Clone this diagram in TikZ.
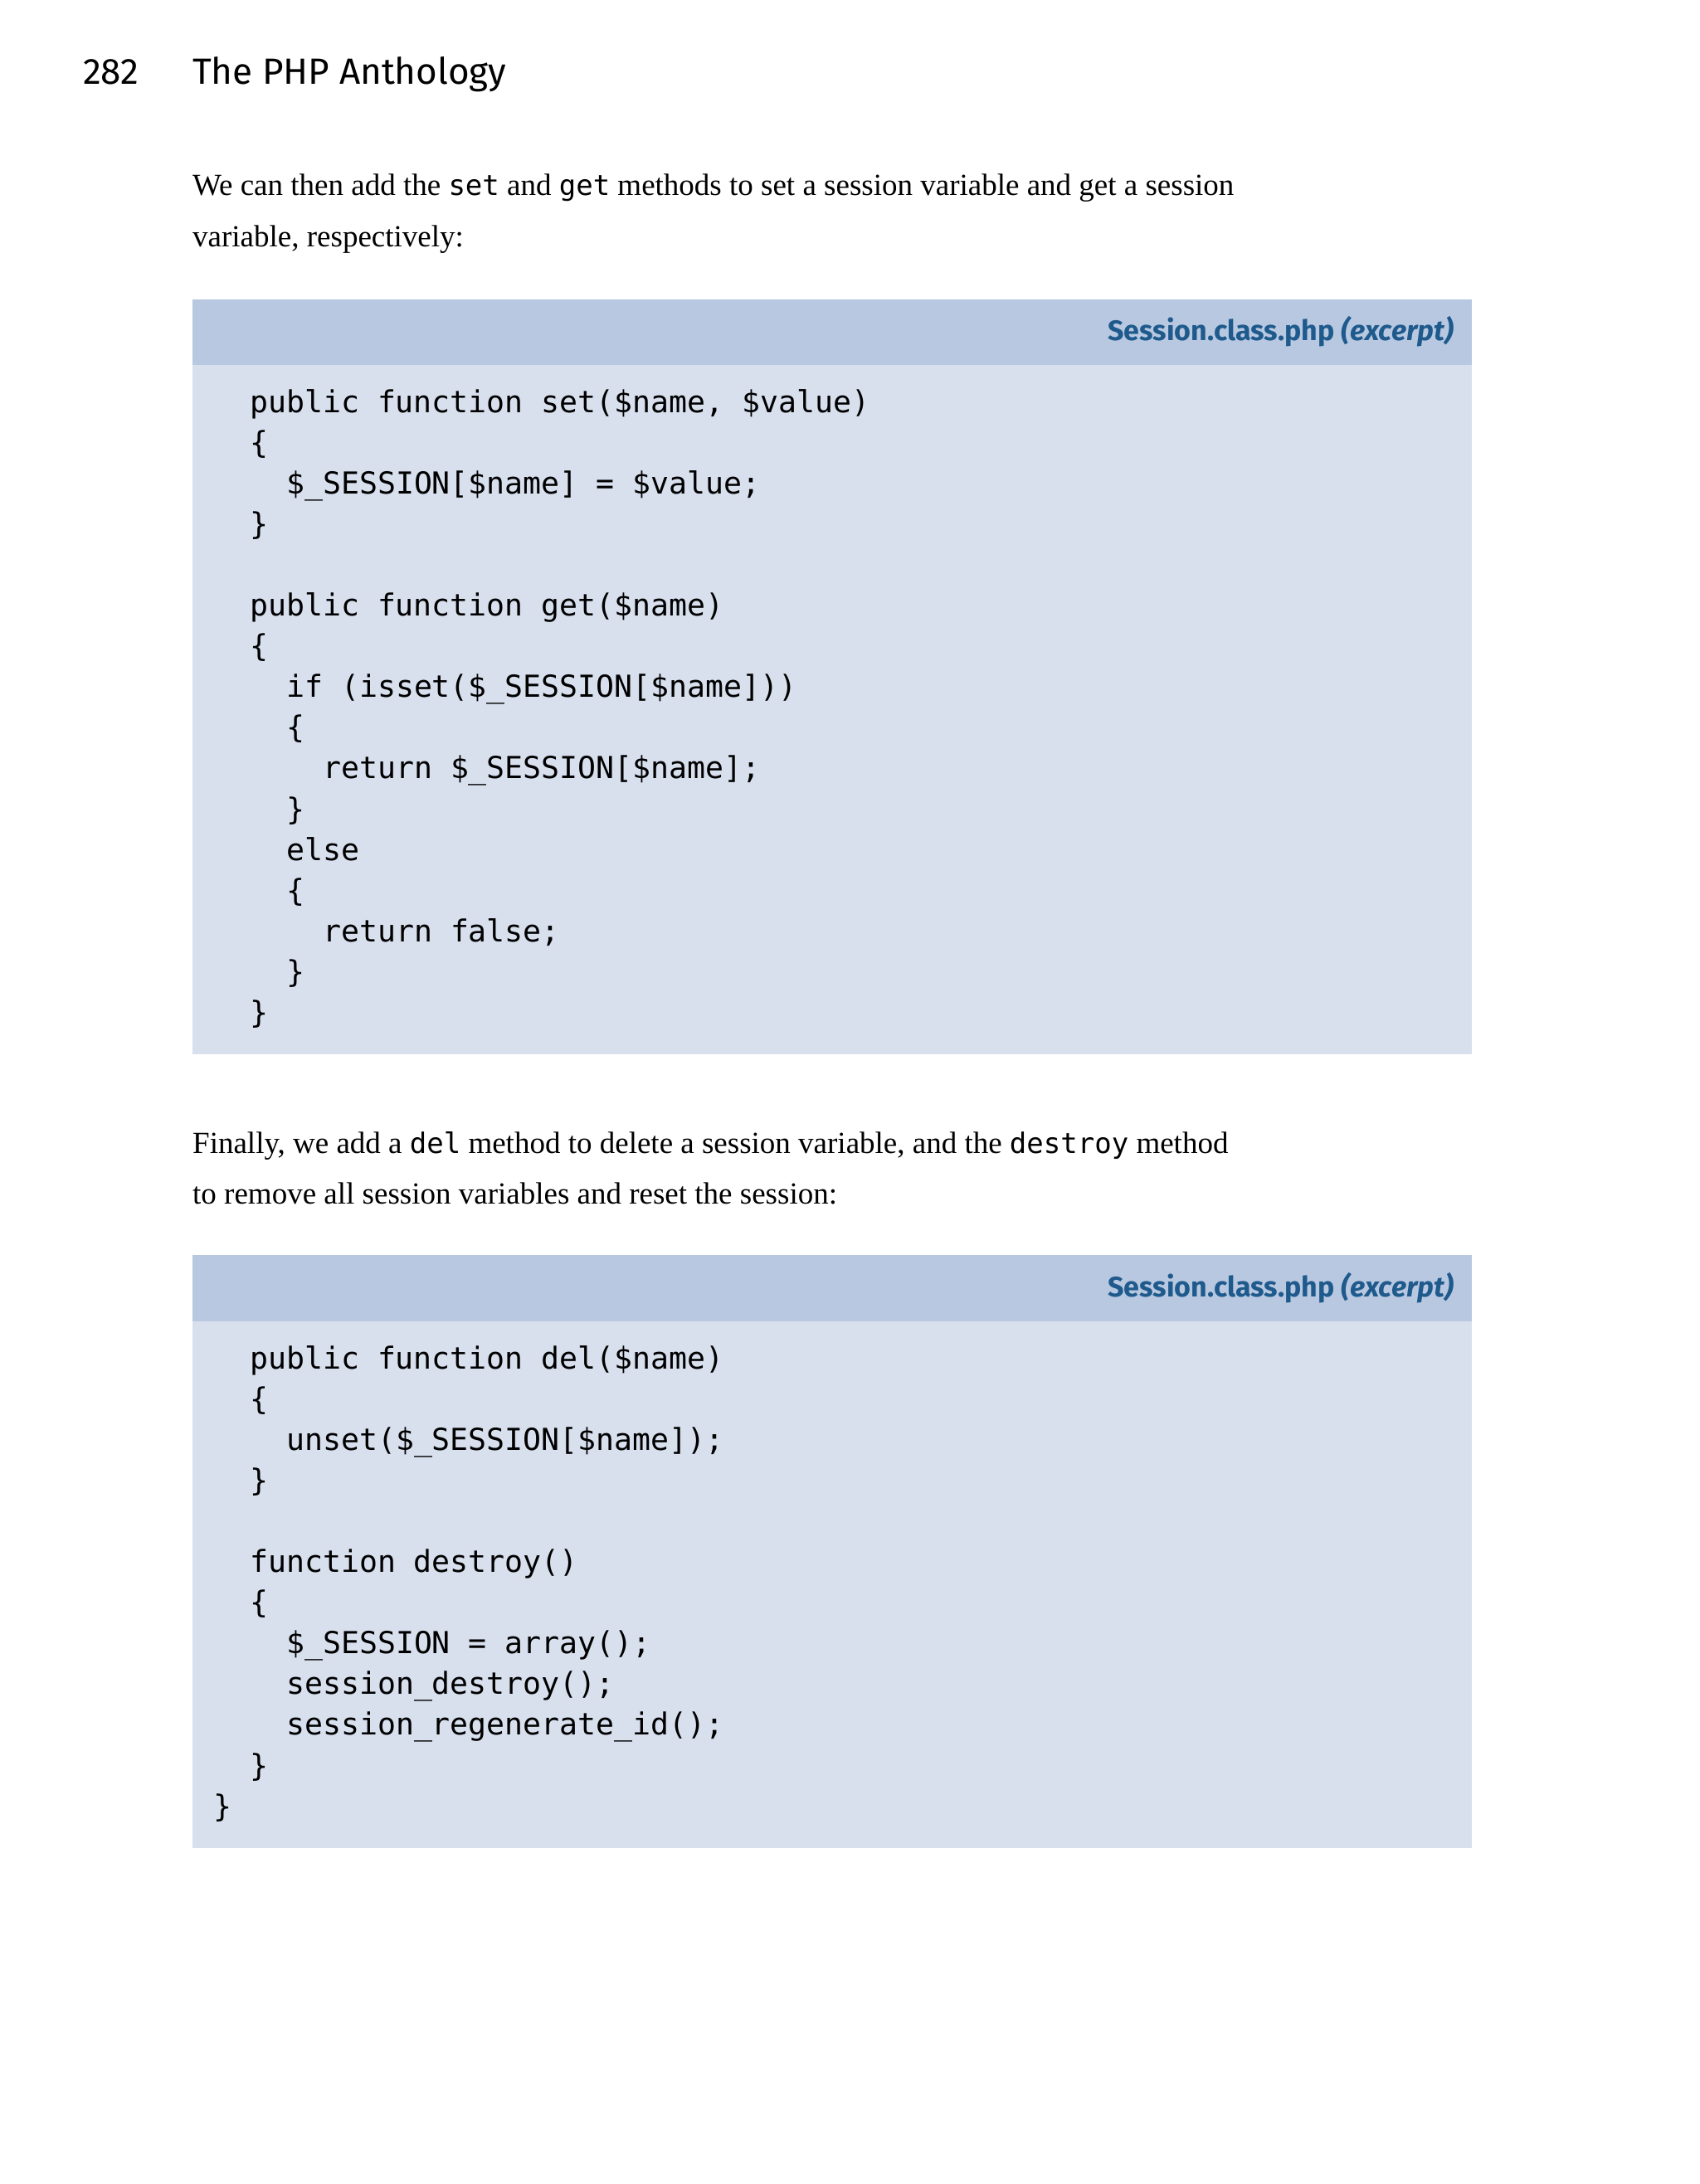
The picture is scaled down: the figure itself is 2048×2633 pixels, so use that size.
\documentclass[tikz,border=0pt]{standalone}
\usepackage{fontspec}
\setmainfont{Liberation Serif}
\newfontfamily\hdfont{Fira Sans}
\newfontfamily\codefont{DejaVu Sans Mono}
\begin{document}
\begin{tikzpicture}[x=1pt,y=-1pt,
  txt/.style={anchor=base west,inner sep=0pt,font=\fontsize{37}{44}\selectfont},
  cd/.style={anchor=base west,inner sep=0pt,font=\codefont\fontsize{36.5}{44}\selectfont},
  hd/.style={anchor=base east,inner sep=0pt,text=hblue,font=\hdfont\fontsize{34}{40}\selectfont\bfseries},
  ]
\definecolor{hblue}{HTML}{1F5A8C}
\definecolor{band}{HTML}{B8C8E1}
\definecolor{bodyc}{HTML}{D8E0EE}
\useasboundingbox[fill=white] (0,0) rectangle (2048,2633);
\node[anchor=base west,inner sep=0pt,font=\hdfont\fontsize{44}{50}\selectfont] (pn) at (100,102) {282};
\node[anchor=base west,inner sep=0pt,font=\hdfont\fontsize{44}{50}\selectfont] (tt) at (232,102) {The PHP Anthology};
\node[txt] (p1) at (232,236) {We can then add the {\codefont\fontsize{34}{40}\selectfont set} and {\codefont\fontsize{34}{40}\selectfont get} methods to set a session variable and get a session};
\node[txt] (p2) at (232,297) {variable, respectively:};
% box 1
\fill[bodyc] (232,361) rectangle (1774,1271);
\fill[band] (232,361) rectangle (1774,440);
\node[hd] (h1) at (1752,410) {Session.class.php \itshape(excerpt)};
\foreach \t/\i [count=\n from 0] in {{public function set(\$name, \$value)}/0,{\{}/0,{\$\_SESSION[\$name] = \$value;}/1,{\}}/0,{}/0,{public function get(\$name)}/0,{\{}/0,{if (isset(\$\_SESSION[\$name]))}/1,{\{}/1,{return \$\_SESSION[\$name];}/2,{\}}/1,{else}/1,{\{}/1,{return false;}/2,{\}}/1,{\}}/0}
  \node[cd] (a\n) at (301+44*\i,497+49.1*\n) {\t};
\node[txt] (p3) at (232,1390) {Finally, we add a {\codefont\fontsize{34}{40}\selectfont del} method to delete a session variable, and the {\codefont\fontsize{34}{40}\selectfont destroy} method};
\node[txt] (p4) at (232,1451) {to remove all session variables and reset the session:};
% box 2
\fill[bodyc] (232,1513) rectangle (1774,2228);
\fill[band] (232,1513) rectangle (1774,1593);
\node[hd] (h2) at (1752,1563) {Session.class.php \itshape(excerpt)};
\foreach \t/\i [count=\n from 0] in {{public function del(\$name)}/0,{\{}/0,{unset(\$\_SESSION[\$name]);}/1,{\}}/0,{}/0,{function destroy()}/0,{\{}/0,{\$\_SESSION = array();}/1,{session\_destroy();}/1,{session\_regenerate\_id();}/1,{\}}/0}
  \node[cd] (b\n) at (301+44*\i,1650+49.1*\n) {\t};
\node[cd] (bend) at (257,2190) {\}};
\end{tikzpicture}
\end{document}
